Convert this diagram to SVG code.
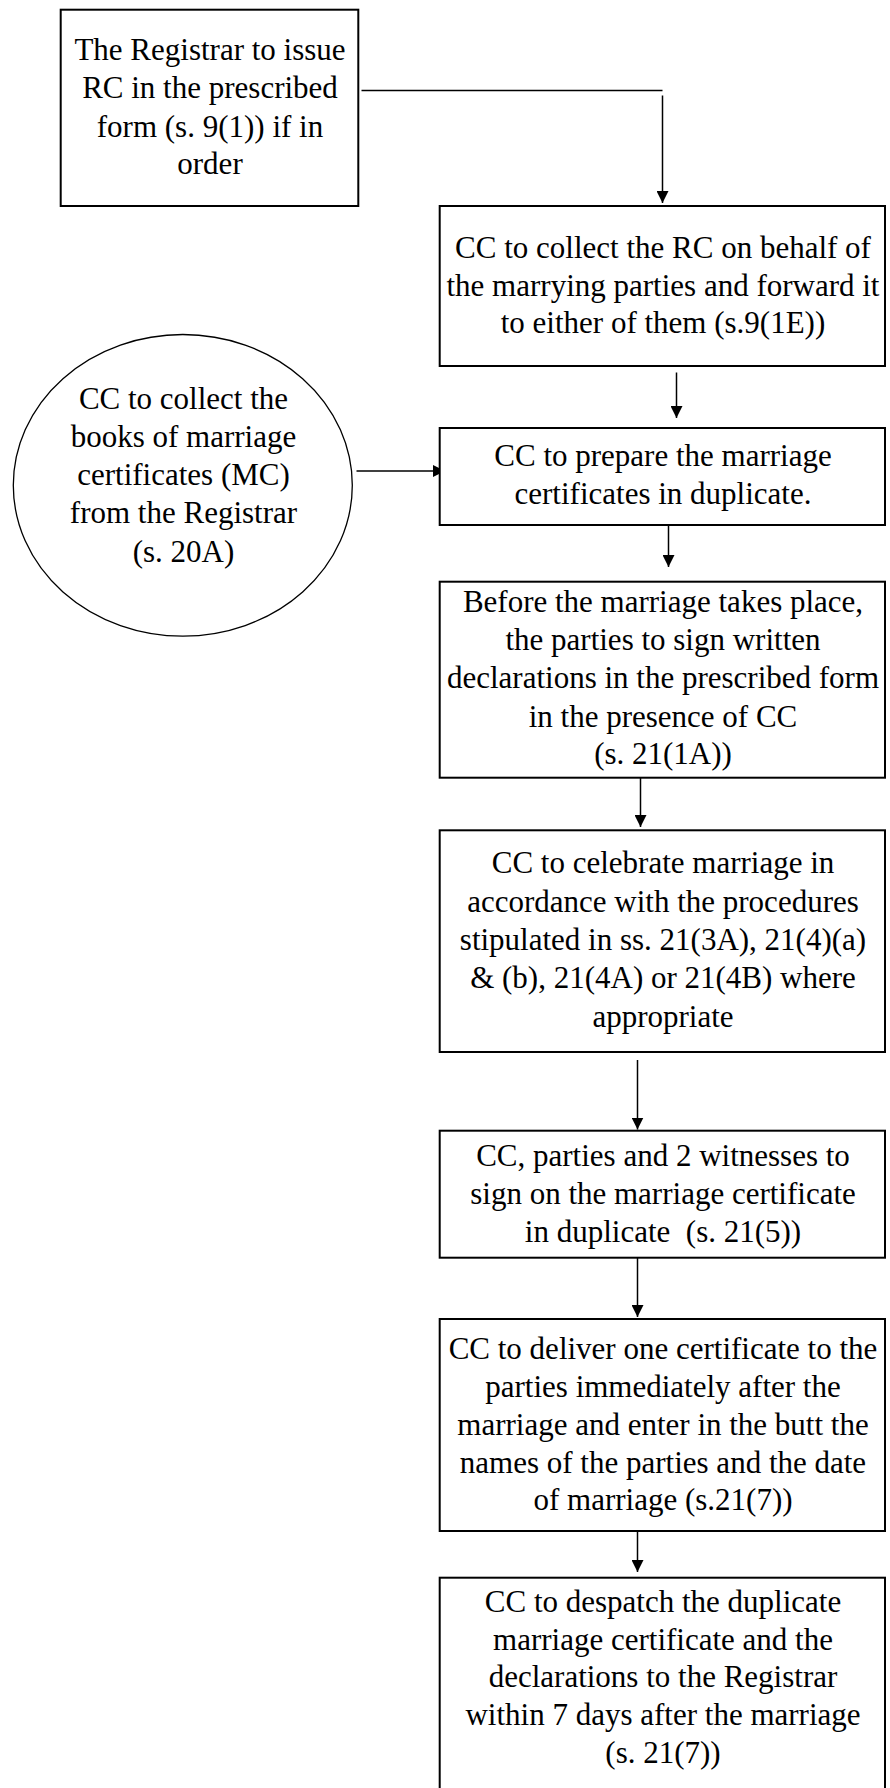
<svg xmlns="http://www.w3.org/2000/svg" width="890" height="1788" viewBox="0 0 890 1788">
<style>
.box{fill:#fff;stroke:#000;stroke-width:2}
.ell{fill:#fff;stroke:#000;stroke-width:1.3}
.t{font-family:"Liberation Serif","Times New Roman",serif;font-size:31px;fill:#000;text-anchor:middle}
.c{fill:none;stroke:#000;stroke-width:1.5}
</style>
<defs>
<marker id="ah" markerUnits="userSpaceOnUse" markerWidth="12" markerHeight="12" refX="12" refY="6" orient="auto">
<path d="M0,0 L12,6 L0,12 Z" fill="#000"/>
</marker>
</defs>
<g id="connectors">
<path class="c" d="M361.5,90.5 H662.5 M662.5,95.5 V203" marker-end="url(#ah)"/>
<path class="c" d="M676.5,372.5 V418" marker-end="url(#ah)"/>
<path class="c" d="M356.5,471 H445" marker-end="url(#ah)"/>
<path class="c" d="M668.5,525 V567" marker-end="url(#ah)"/>
<path class="c" d="M640.5,778 V827" marker-end="url(#ah)"/>
<path class="c" d="M637.5,1060 V1129.5" marker-end="url(#ah)"/>
<path class="c" d="M637.5,1258 V1317" marker-end="url(#ah)"/>
<path class="c" d="M637.5,1531 V1572" marker-end="url(#ah)"/>
</g>
<g id="n1">
<rect class="box" x="60.7" y="9.7" width="297.6" height="196.3"/>
<text class="t" x="210" y="60">The Registrar to issue</text>
<text class="t" x="210" y="98">RC in the prescribed</text>
<text class="t" x="210" y="136.5">form (s. 9(1)) if in</text>
<text class="t" x="210" y="174">order</text>
</g>
<g id="n2">
<rect class="box" x="439.7" y="206" width="445.3" height="160"/>
<text class="t" x="663" y="258">CC to collect the RC on behalf of</text>
<text class="t" x="663" y="295.5">the marrying parties and forward it</text>
<text class="t" x="663" y="333">to either of them (s.9(1E))</text>
</g>
<g id="n3">
<ellipse class="ell" cx="182.8" cy="485.3" rx="169.5" ry="150.8"/>
<text class="t" x="183.5" y="409">CC to collect the</text>
<text class="t" x="183.5" y="447">books of marriage</text>
<text class="t" x="183.5" y="485">certificates (MC)</text>
<text class="t" x="183.5" y="523">from the Registrar</text>
<text class="t" x="183.5" y="561.5">(s. 20A)</text>
</g>
<g id="n4">
<rect class="box" x="439.7" y="428" width="445.3" height="97"/>
<text class="t" x="663" y="465.7">CC to prepare the marriage</text>
<text class="t" x="663" y="504">certificates in duplicate.</text>
</g>
<g id="n5">
<rect class="box" x="439.7" y="581.7" width="445.3" height="196"/>
<text class="t" x="663" y="612.3">Before the marriage takes place,</text>
<text class="t" x="663" y="650">the parties to sign written</text>
<text class="t" x="663" y="688.3">declarations in the prescribed form</text>
<text class="t" x="663" y="726.5">in the presence of CC</text>
<text class="t" x="663" y="763.5">(s. 21(1A))</text>
</g>
<g id="n6">
<rect class="box" x="439.7" y="830.3" width="445.3" height="221.7"/>
<text class="t" x="663" y="873.3">CC to celebrate marriage in</text>
<text class="t" x="663" y="911.7">accordance with the procedures</text>
<text class="t" x="663" y="950">stipulated in ss. 21(3A), 21(4)(a)</text>
<text class="t" x="663" y="988.3">&amp; (b), 21(4A) or 21(4B) where</text>
<text class="t" x="663" y="1026.7">appropriate</text>
</g>
<g id="n7">
<rect class="box" x="439.7" y="1130.7" width="445.3" height="127"/>
<text class="t" x="663" y="1166">CC, parties and 2 witnesses to</text>
<text class="t" x="663" y="1203.5">sign on the marriage certificate</text>
<text class="t" x="663" y="1241.7">in duplicate&#160; (s. 21(5))</text>
</g>
<g id="n8">
<rect class="box" x="439.7" y="1319" width="445.3" height="212"/>
<text class="t" x="663" y="1359.3">CC to deliver one certificate to the</text>
<text class="t" x="663" y="1396.8">parties immediately after the</text>
<text class="t" x="663" y="1435">marriage and enter in the butt the</text>
<text class="t" x="663" y="1472.7">names of the parties and the date</text>
<text class="t" x="663" y="1510">of marriage (s.21(7))</text>
</g>
<g id="n9">
<rect class="box" x="439.7" y="1577.7" width="445.3" height="230"/>
<text class="t" x="663" y="1611.7">CC to despatch the duplicate</text>
<text class="t" x="663" y="1650">marriage certificate and the</text>
<text class="t" x="663" y="1687.3">declarations to the Registrar</text>
<text class="t" x="663" y="1725">within 7 days after the marriage</text>
<text class="t" x="663" y="1762.7">(s. 21(7))</text>
</g>
</svg>
